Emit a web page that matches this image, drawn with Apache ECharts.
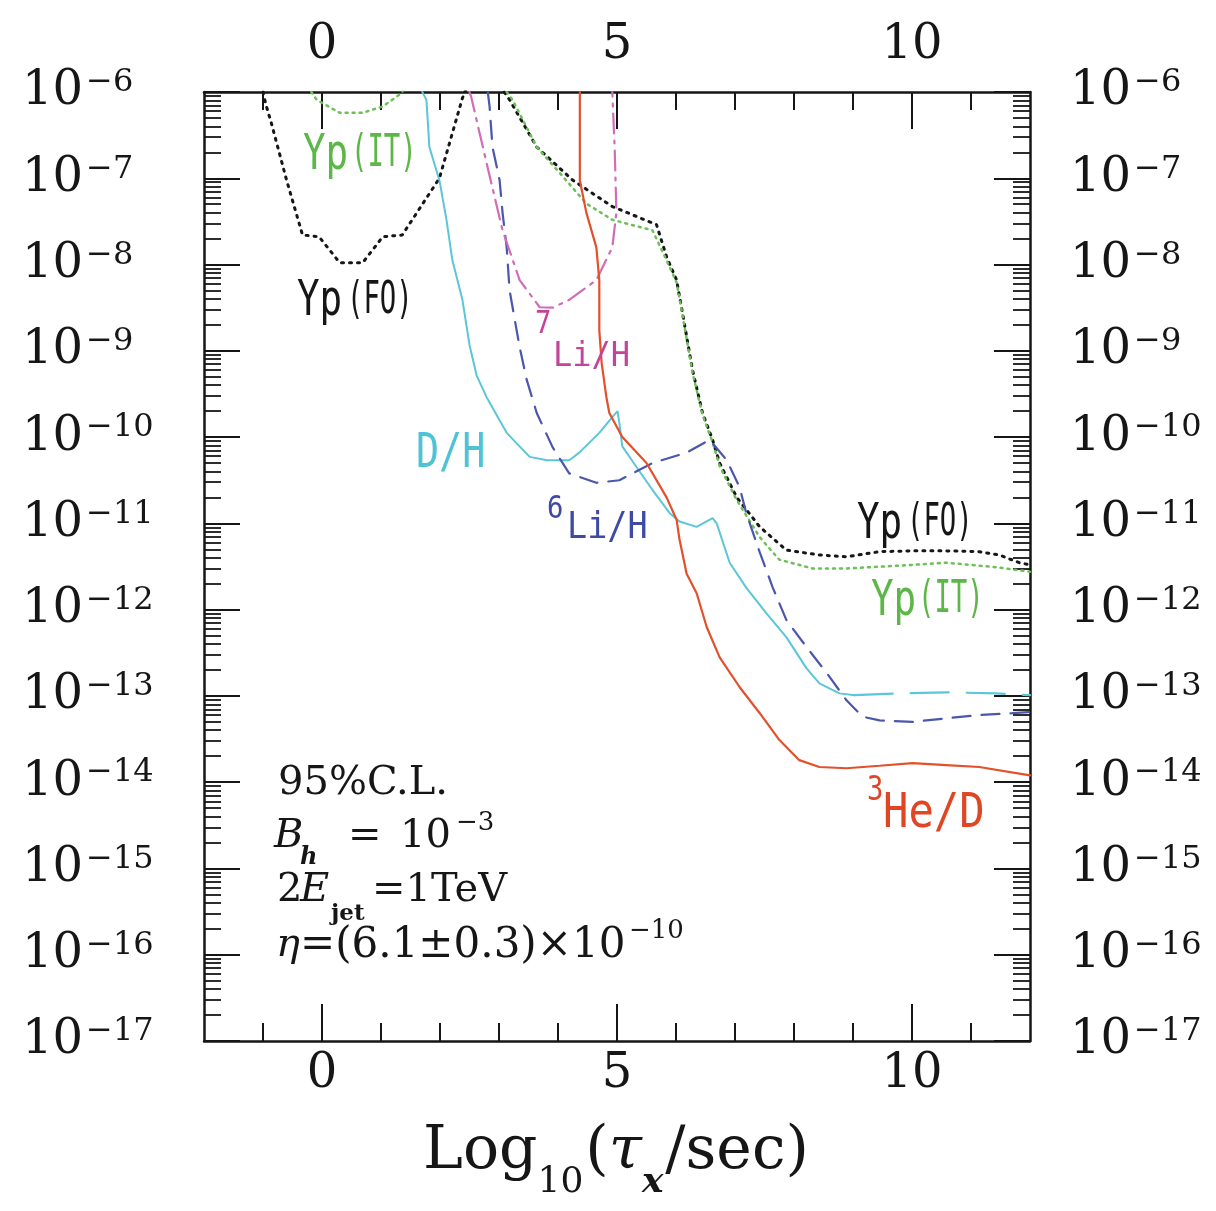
<!DOCTYPE html>
<html>
<head>
<meta charset="utf-8">
<script src="https://cdn.jsdelivr.net/npm/echarts@6/dist/echarts.min.js"></script>
<style>
html, body { margin: 0; padding: 0; background: #fff; }
#chart { width: 1216px; height: 1211px; }
</style>
</head>
<body>
<div id="chart"></div>
<script>
// Upper bounds on the hadronic-decay abundance parameter vs lifetime, log10(tau_x / sec)

// Yp (FO) — helium-4 bound, low-lifetime island and main branch
const ypFoLowX = [-1.0, -0.95, -0.86, -0.6, -0.33, -0.05, 0.3, 0.69, 1.03, 1.36, 1.99, 2.38, 2.45];
const ypFoLowY = [1e-6, 7.1e-7, 4.4e-7, 9.5e-8, 2.2e-8, 2.1e-8, 1.05e-8, 1.05e-8, 2.1e-8, 2.2e-8, 1.0e-7, 8.5e-7, 1.12e-6];
const ypFoX = [3.09, 3.18, 3.64, 4.25, 4.92, 5.67, 5.84, 6.01, 6.11, 6.28, 6.45, 6.62, 6.74, 7.03, 7.42, 7.87, 8.43, 8.89, 9.45, 10.01, 10.58, 11.14, 11.48, 11.82, 12.0];
const ypFoY = [1e-6, 8.1e-7, 2.3e-7, 9.5e-8, 4.7e-8, 2.9e-8, 1.23e-8, 6.6e-9, 2.75e-9, 6.0e-10, 1.9e-10, 9.3e-11, 5.0e-11, 2.0e-11, 9.1e-12, 4.9e-12, 4.3e-12, 4.1e-12, 4.7e-12, 4.8e-12, 4.8e-12, 4.7e-12, 4.3e-12, 3.5e-12, 3.3e-12];

// Yp (IT)
const ypItLowX = [-0.22, -0.18, -0.09, 0.3, 0.69, 1.03, 1.31, 1.36, 1.4];
const ypItLowY = [1.2e-6, 1e-6, 8.1e-7, 5.75e-7, 5.75e-7, 6.8e-7, 9.3e-7, 1e-6, 1.2e-6];
const ypItX = [3.13, 3.23, 3.64, 4.03, 4.48, 4.92, 5.6, 5.84, 6.01, 6.11, 6.28, 6.45, 6.62, 6.74, 7.03, 7.42, 7.75, 8.31, 8.89, 10.01, 10.58, 11.43, 12.0];
const ypItY = [1e-6, 8.1e-7, 2.3e-7, 1.15e-7, 5.1e-8, 3.3e-8, 2.5e-8, 1.12e-8, 6.2e-9, 2.6e-9, 5.6e-10, 1.8e-10, 8.7e-11, 4.6e-11, 1.86e-11, 6.9e-12, 3.8e-12, 3.0e-12, 3.0e-12, 3.3e-12, 3.5e-12, 3.1e-12, 2.75e-12];

// D/H (solid part, then long-dashed continuation)
const dhX = [1.7, 1.77, 1.82, 1.99, 2.11, 2.21, 2.38, 2.5, 2.62, 2.79, 3.13, 3.52, 3.81, 4.19, 4.36, 4.7, 4.92, 5.01, 5.04, 5.09, 5.33, 5.6, 5.89, 6.06, 6.35, 6.62, 6.69, 6.91, 7.19, 7.53, 7.87, 8.21, 8.43, 8.77, 9.03];
const dhY = [1e-6, 8.1e-7, 2.3e-7, 9.5e-8, 3.3e-8, 1.12e-8, 3.9e-9, 1.17e-9, 5.2e-10, 2.9e-10, 1.12e-10, 5.9e-11, 5.4e-11, 5.4e-11, 6.6e-11, 1.12e-10, 1.7e-10, 2.0e-10, 1.45e-10, 7.8e-11, 4.5e-11, 2.45e-11, 1.32e-11, 1.05e-11, 9.1e-12, 1.15e-11, 1.0e-11, 3.5e-12, 1.8e-12, 9.1e-13, 4.8e-13, 2.1e-13, 1.4e-13, 1.07e-13, 1.02e-13];
const dhTailX = [9.03, 9.79, 10.58, 11.43, 12.0];
const dhTailY = [1.02e-13, 1.07e-13, 1.1e-13, 1.07e-13, 1.02e-13];

// 6Li/H
const li6X = [2.81, 2.84, 2.89, 3.01, 3.06, 3.13, 3.18, 3.35, 3.47, 3.64, 3.91, 4.19, 4.65, 5.04, 5.6, 6.18, 6.57, 6.86, 7.08, 7.19, 7.42, 7.64, 7.87, 8.21, 8.55, 8.89, 9.16, 9.45, 10.01, 10.58, 11.14, 11.7, 12.0];
const li6Y = [1e-6, 6.8e-7, 2.3e-7, 9.5e-8, 4.0e-8, 1.58e-8, 5.0e-9, 1.1e-9, 4.6e-10, 1.9e-10, 7.6e-11, 3.8e-11, 2.95e-11, 3.16e-11, 5.0e-11, 6.6e-11, 9.3e-11, 5.4e-11, 2.6e-11, 1.32e-11, 4.6e-12, 1.8e-12, 7.6e-13, 3.7e-13, 1.86e-13, 8.9e-14, 5.75e-14, 5.2e-14, 5.0e-14, 5.5e-14, 6.0e-14, 6.3e-14, 6.5e-14];

// 7Li/H
const li7X = [2.5, 2.53, 2.79, 3.06, 3.35, 3.69, 3.91, 4.19, 4.65, 4.92, 4.99, 4.96, 4.92];
const li7Y = [1e-6, 8.7e-7, 1.5e-7, 2.5e-8, 6.6e-9, 3.2e-9, 3.16e-9, 3.9e-9, 6.6e-9, 1.58e-8, 4.0e-8, 2.3e-7, 1e-6];

// 3He/D
const he3X = [4.37, 4.37, 4.48, 4.65, 4.7, 4.7, 4.74, 4.82, 4.87, 5.09, 5.5, 5.84, 6.01, 6.06, 6.18, 6.35, 6.52, 6.74, 7.08, 7.42, 7.75, 8.09, 8.43, 8.89, 9.45, 10.01, 10.58, 11.14, 12.0];
const he3Y = [1e-6, 9.5e-8, 4.0e-8, 1.58e-8, 6.6e-9, 1.74e-9, 7.2e-10, 2.9e-10, 1.9e-10, 1.0e-10, 5.0e-11, 2.0e-11, 1.1e-11, 6.5e-12, 2.6e-12, 1.55e-12, 6.3e-13, 2.8e-13, 1.26e-13, 6.3e-14, 3.1e-14, 1.8e-14, 1.5e-14, 1.45e-14, 1.55e-14, 1.66e-14, 1.58e-14, 1.5e-14, 1.2e-14];

// axis ticks
const xLabelled = [0, 5, 10];
const xMinorTicks = [-1, 0, 1, 2, 3, 4, 5, 6, 7, 8, 9, 10, 11];
const yMinExp = -17;
const yMaxExp = -6;

const zip = (xs, ys) => xs.map((x, i) => [x, ys[i]]);

const INK = '#161616';
const SERIF = "'DejaVu Serif', 'Liberation Serif', serif";
const MONO = "'DejaVu Sans Mono', 'Liberation Mono', monospace";

// log-spaced minor ticks (2..9 within each decade), in exponent units
const yMinorExp = [];
for (let e = yMinExp; e < yMaxExp; e++) {
  for (let m = 2; m <= 9; m++) yMinorExp.push(e + Math.log10(m));
}

const frameLine = { show: true, onZero: false, lineStyle: { color: INK, width: 2.5 } };
const tickStyle = { color: INK, width: 2 };

function xAxisPair(position, withLabels) {
  return [
    {
      type: 'value', position: position, min: -2, max: 12, interval: 1,
      axisLine: frameLine,
      axisTick: { show: true, inside: true, length: 18, customValues: xMinorTicks, lineStyle: tickStyle },
      axisLabel: {
        show: withLabels,
        customValues: xLabelled,
        formatter: v => String(v),
        fontFamily: SERIF, fontSize: 48, color: INK,
        margin: position === 'top' ? 22 : 10
      },
      splitLine: { show: false }
    },
    {
      type: 'value', position: position, min: -2, max: 12, interval: 1,
      axisLine: { show: false, onZero: false },
      axisTick: { show: true, inside: true, length: 37, customValues: xLabelled, lineStyle: tickStyle },
      axisLabel: { show: false },
      splitLine: { show: false }
    }
  ];
}

const powerRich = {
  b: { fontFamily: SERIF, fontSize: 48, lineHeight: 50, color: INK },
  s: { fontFamily: SERIF, fontSize: 32, lineHeight: 30, verticalAlign: 'top', color: INK, padding: [0, 0, 0, 3] }
};

function yAxisPair(position) {
  return [
    {
      type: 'log', logBase: 10, position: position,
      min: Math.pow(10, yMinExp), max: Math.pow(10, yMaxExp), interval: 1,
      axisLine: frameLine,
      axisTick: { show: true, inside: true, length: 36, lineStyle: tickStyle },
      axisLabel: {
        show: true,
        align: 'left',
        margin: position === 'left' ? 182 : 40,
        formatter: v => '{b|10}{s|\u2212' + (-Math.round(Math.log10(v))) + '}',
        rich: powerRich
      },
      splitLine: { show: false },
      minorTick: { show: false }
    },
    {
      type: 'value', position: position, min: yMinExp, max: yMaxExp, interval: 1,
      axisLine: { show: false, onZero: false },
      axisTick: { show: true, inside: true, length: 17, customValues: yMinorExp, lineStyle: { color: INK, width: 1.8 } },
      axisLabel: { show: false },
      splitLine: { show: false }
    }
  ];
}

function curve(name, xs, ys, color, width, type) {
  return {
    name: name, type: 'line', xAxisIndex: 0, yAxisIndex: 0,
    data: zip(xs, ys), showSymbol: false, symbol: 'none', clip: true,
    lineStyle: { color: color, width: width, type: type, cap: 'round' },
    z: 3
  };
}

const C_GREEN = '#6cc057';
const C_CYAN = '#5cc6d9';
const C_BLUE = '#4b56ad';
const C_PINK = '#d26cb6';
const C_RED = '#e2502c';

const series = [
  curve('Yp(FO) low', ypFoLowX, ypFoLowY, INK, 3, [2, 6]),
  curve('Yp(FO)', ypFoX, ypFoY, INK, 3, [2, 6]),
  curve('Yp(IT) low', ypItLowX, ypItLowY, C_GREEN, 2.5, [2, 5]),
  curve('Yp(IT)', ypItX, ypItY, C_GREEN, 2.5, [2, 5]),
  curve('D/H', dhX, dhY, C_CYAN, 2, 'solid'),
  curve('D/H tail', dhTailX, dhTailY, C_CYAN, 2.2, [38, 18]),
  curve('6Li/H', li6X, li6Y, C_BLUE, 2.2, [18, 11]),
  curve('7Li/H', li7X, li7Y, C_PINK, 2.2, [20, 7, 3, 7]),
  curve('3He/D', he3X, he3Y, C_RED, 2.2, 'solid')
];

// text helper for in-plot annotations
function t(x, y, text, font, fill, scaleX) {
  return {
    type: 'text', x: x, y: y, scaleX: scaleX || 1, z: 10,
    style: { text: text, font: font, fill: fill, textAlign: 'left', textVerticalAlign: 'middle' }
  };
}
const mono = s => s + 'px ' + MONO;
const serif = s => s + 'px ' + SERIF;
const serifIt = s => 'italic ' + s + 'px ' + SERIF;

const L_GREEN = '#5db748';
const L_PINK = '#c4449a';
const L_CYAN = '#4fc2d6';
const L_BLUE = '#3e4aa3';
const L_RED = '#e04524';

// x-axis title, laid out piece by piece so the subscripts sit below the baseline
const measureCtx = document.createElement('canvas').getContext('2d');
function titlePieces(centerX, cy) {
  const parts = [
    { text: 'Log', font: serif(60), dy: 0 },
    { text: '10', font: serif(36), dy: 31 },
    { text: '(', font: serif(60), dy: 0, pad: 2 },
    { text: '\u03c4', font: serifIt(60), dy: 0 },
    { text: 'x', font: 'italic bold 36px ' + SERIF, dy: 31 },
    { text: '/sec)', font: serif(60), dy: 0, pad: 2 }
  ];
  let total = 0;
  parts.forEach(p => {
    measureCtx.font = p.font;
    p.w = measureCtx.measureText(p.text).width + (p.pad || 0);
    total += p.w;
  });
  let x = centerX - total / 2;
  return parts.map(p => {
    const el = t(x + (p.pad || 0), cy + p.dy, p.text, p.font, INK);
    x += p.w;
    return el;
  });
}

const graphics = [
  // curve labels
  t(303, 156, 'Yp', mono(50), L_GREEN, 0.75),
  t(351, 155, '(IT)', mono(44), L_GREEN, 0.62),
  t(297, 302, 'Yp', mono(50), INK, 0.75),
  t(347, 302, '(FO)', mono(44), INK, 0.62),
  t(535, 325, '7', mono(32), L_PINK, 0.85),
  t(553, 357, 'Li/H', mono(34), L_PINK, 0.94),
  t(416, 455, 'D/H', mono(48), L_CYAN, 0.8),
  t(547, 510, '6', mono(32), L_BLUE, 0.85),
  t(567, 528, 'Li/H', mono(38), L_BLUE, 0.88),
  t(857, 525, 'Yp', mono(50), INK, 0.75),
  t(907, 524, '(FO)', mono(44), INK, 0.62),
  t(871, 602, 'Yp', mono(50), L_GREEN, 0.75),
  t(918, 601, '(IT)', mono(44), L_GREEN, 0.62),
  t(867, 791, '3', mono(34), L_RED, 0.8),
  t(883, 815, 'He/D', mono(48), L_RED, 0.88),
  // parameter block
  t(278, 784, '95%C.L.', serif(40), INK),
  t(274, 837, 'B', serifIt(40), INK),
  t(300, 858, 'h', 'italic bold 24px ' + SERIF, INK),
  t(348, 837, '=', serif(40), INK),
  t(400, 837, '10', serif(40), INK),
  t(456, 823, '\u22123', serif(26), INK),
  t(277, 891, '2', serif(40), INK),
  t(300, 891, 'E', serifIt(40), INK),
  t(331, 914, 'jet', 'bold 23px ' + SERIF, INK),
  t(372, 891, '=1TeV', serif(40), INK),
  t(276, 946, '\u03b7', serifIt(40), INK),
  t(300, 946, '=(6.1\u00b10.3)\u00d710', serif(42), INK),
  t(629, 931, '\u221210', serif(26), INK)
].concat(titlePieces(616, 1152));

const chart = echarts.init(document.getElementById('chart'), null, { renderer: 'canvas' });
chart.setOption({
  animation: false,
  backgroundColor: '#ffffff',
  grid: { left: 204, right: 186, top: 92, bottom: 170, containLabel: false },
  xAxis: [].concat(xAxisPair('bottom', true), xAxisPair('top', true)),
  yAxis: [].concat(yAxisPair('left'), yAxisPair('right')),
  series: series,
  graphic: graphics
});
</script>
</body>
</html>
